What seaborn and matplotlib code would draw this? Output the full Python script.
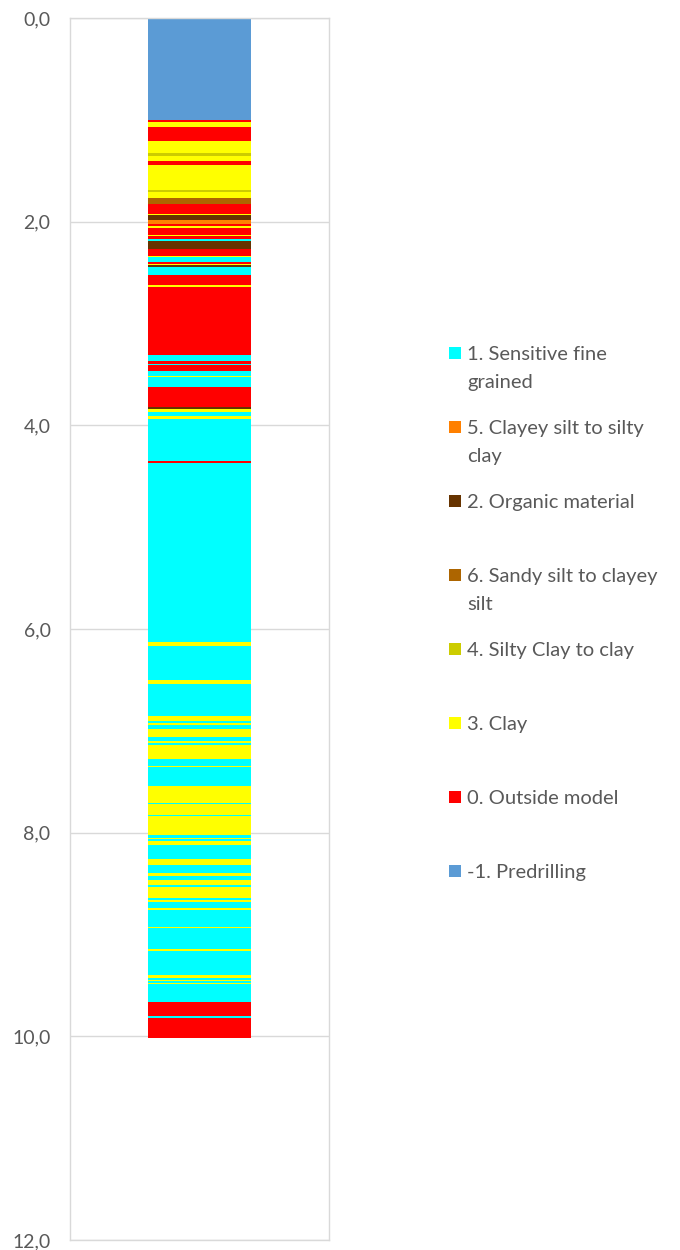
import matplotlib
matplotlib.use("Agg")
import matplotlib.pyplot as plt
from matplotlib.patches import Rectangle
from matplotlib.ticker import FuncFormatter
import seaborn as sns
import numpy as np

# === 1. Daten: Schichtgrenzen (Tiefe Oberkante, m) und Klasse ===
layer_top = [
    0.00, 1.00, 1.02, 1.07, 1.21, 1.33, 1.36, 1.40, 1.44, 1.69,
    1.71, 1.77, 1.83, 1.92, 1.93, 1.98, 2.02, 2.04, 2.06, 2.13,
    2.14, 2.17, 2.19, 2.27, 2.34, 2.35, 2.40, 2.415, 2.425, 2.45,
    2.52, 2.62, 2.64, 3.31, 3.37, 3.40, 3.41, 3.47, 3.52, 3.53,
    3.62, 3.82, 3.84, 3.87, 3.91, 3.94, 4.35, 4.37, 6.13, 6.17,
    6.50, 6.54, 6.85, 6.90, 6.92, 6.94, 6.98, 7.06, 7.10, 7.12,
    7.14, 7.28, 7.35, 7.36, 7.54, 7.71, 7.72, 7.83, 7.84, 8.02,
    8.05, 8.06, 8.08, 8.12, 8.26, 8.32, 8.40, 8.43, 8.46, 8.51,
    8.53, 8.64, 8.66, 8.68, 8.74, 8.76, 8.93, 8.94, 9.14, 9.16,
    9.40, 9.43, 9.45, 9.46, 9.48, 9.49, 9.66, 9.80, 9.82,
]
layer_bottom_end = 10.02
layer_class = [
    -1, 0, 3, 0, 3, 4, 3, 0, 3, 4,
    3, 6, 0, 3, 2, 5, 0, 3, 0, 3,
    0, 1, 2, 0, 3, 1, 0, 3, 2, 1,
    0, 3, 0, 1, 0, 1, 0, 1, 3, 1,
    0, 2, 3, 1, 3, 1, 0, 1, 3, 1,
    3, 1, 3, 1, 3, 1, 3, 1, 3, 1,
    3, 1, 3, 1, 3, 1, 3, 1, 3, 1,
    3, 1, 3, 1, 3, 1, 3, 1, 3, 1,
    3, 1, 3, 1, 3, 1, 3, 1, 3, 1,
    3, 1, 3, 1, 3, 1, 0, 1, 0,
]

# Legende (Reihenfolge wie im Original)
legend_classes = [1, 5, 2, 6, 4, 3, 0, -1]
class_labels = {
    1: "1. Sensitive fine\ngrained",
    5: "5. Clayey silt to silty\nclay",
    2: "2. Organic material",
    6: "6. Sandy silt to clayey\nsilt",
    4: "4. Silty Clay to clay",
    3: "3. Clay",
    0: "0. Outside model",
    -1: "-1. Predrilling",
}
class_colors = {
    -1: "#5B9BD5",
    0: "#FF0000",
    1: "#00FFFF",
    2: "#663300",
    3: "#FFFF00",
    4: "#CCCC00",
    5: "#FF8000",
    6: "#AD6500",
}

# === 2. Plot ===
sns.set_theme(style="white")
plt.rcParams["font.family"] = ["Lato", "DejaVu Sans"]

fig = plt.figure(figsize=(6.8, 12.5), dpi=100)
ax = fig.add_axes([70 / 680, 1 - 1240 / 1250, 259 / 680, 1222 / 1250])

tops = np.array(layer_top)
bottoms = np.append(tops[1:], layer_bottom_end)
thick = bottoms - tops

for top, h, cls in zip(tops, thick, layer_class):
    sns.barplot(x=[0], y=[h], bottom=top, color=class_colors[cls], saturation=1,
                width=0.8, errorbar=None, linewidth=0, antialiased=False, ax=ax)

ax.set_xlim(-1, 1)
ax.set_ylim(12, 0)
ax.set_yticks(np.arange(0, 13, 2))
ax.yaxis.set_major_formatter(FuncFormatter(lambda v, p: f"{v:.1f}".replace(".", ",")))
ax.set_xticks([])
ax.set_xlabel("")
ax.set_ylabel("")
ax.grid(axis="y", color="#D9D9D9", linewidth=1.0)
ax.set_axisbelow(True)
for s in ax.spines.values():
    s.set_color("#D9D9D9")
    s.set_linewidth(1.0)
ax.tick_params(axis="y", length=0, pad=14, labelsize=14, labelcolor="#595959")

# Legende manuell (Excel-Stil, gleichmaessiger Abstand)
for i, cls in enumerate(legend_classes):
    yc = 353 + 74.0 * i
    fig.patches.append(Rectangle((449 / 680, 1 - (yc + 6) / 1250), 12 / 680, 12 / 1250,
                                 transform=fig.transFigure, facecolor=class_colors[cls],
                                 edgecolor="none"))
    fig.text(467 / 680, 1 - (yc - 7) / 1250, class_labels[cls], ha="left", va="top",
             fontsize=14.5, color="#595959", linespacing=1.8)

fig.savefig("out.png", dpi=100)
